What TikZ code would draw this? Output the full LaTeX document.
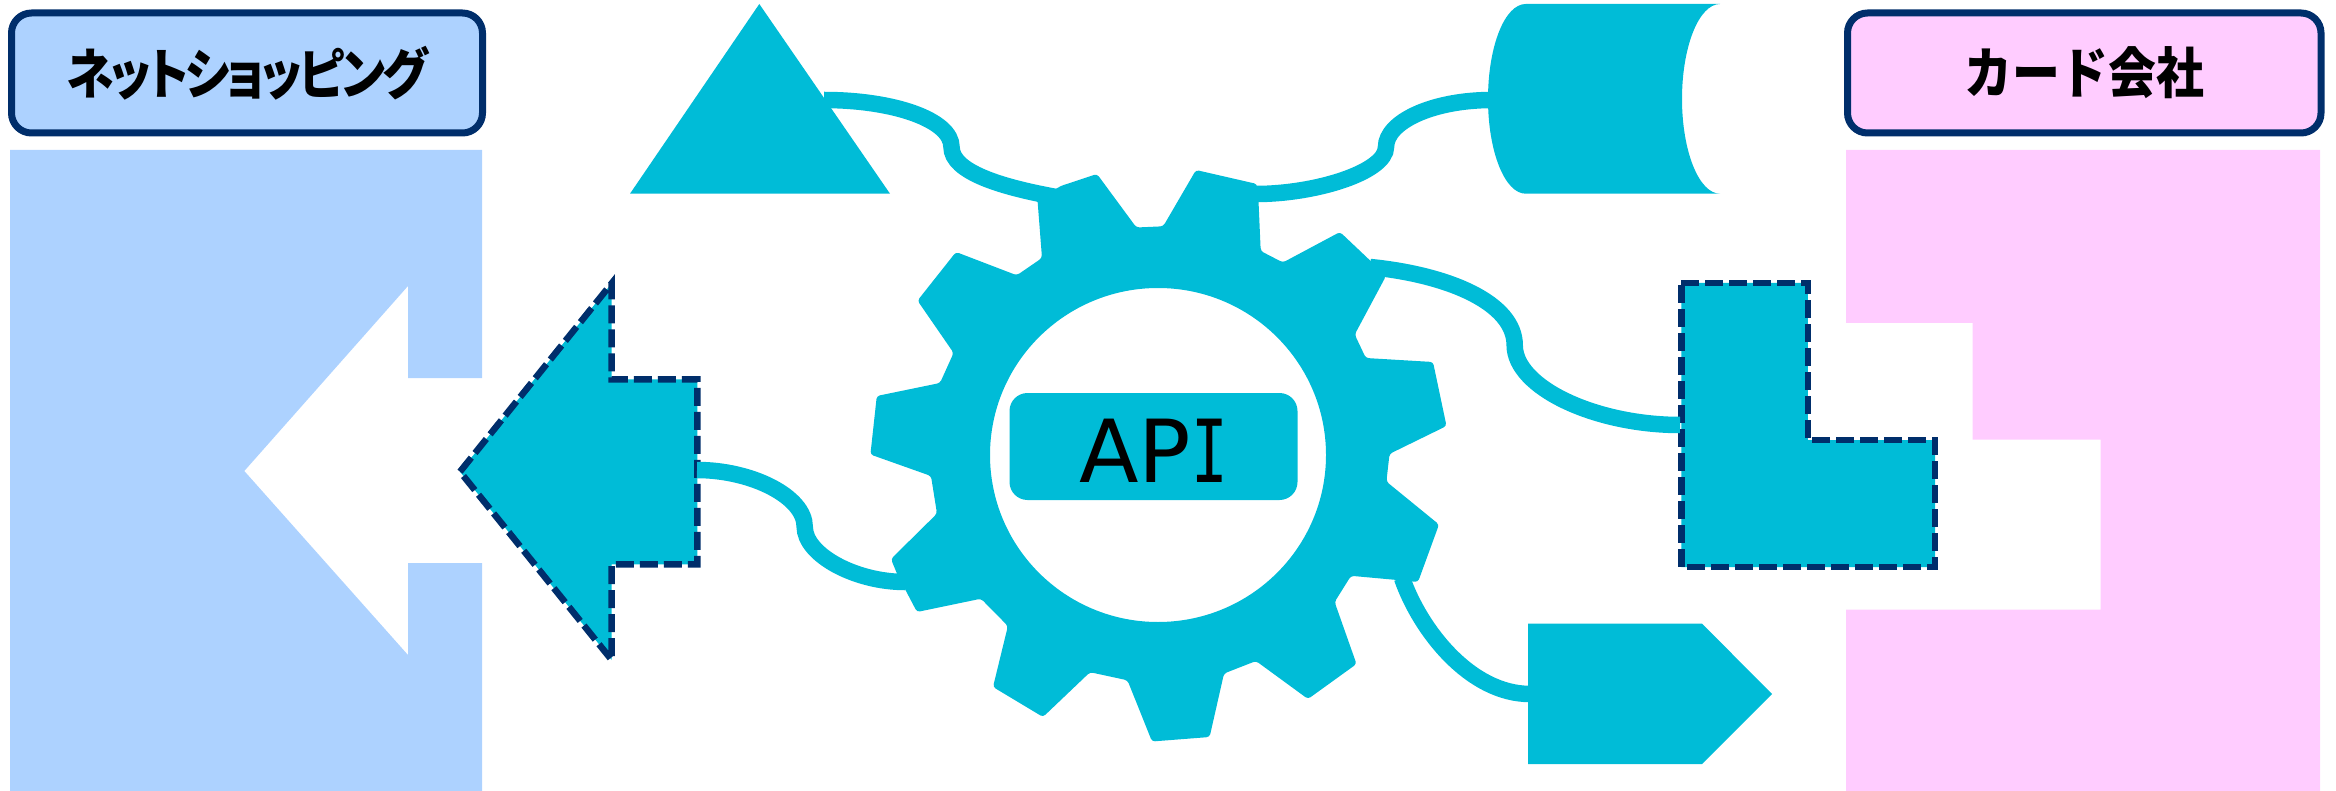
\documentclass[tikz,border=0pt]{standalone}
\usepackage{fontspec}
\setmainfont{DejaVu Sans}
\newfontfamily\jpfont[FakeStretch=0.87]{Noto Sans CJK JP}
\newfontfamily\jppalt[RawFeature=+palt,LetterSpace=-5.6,FakeStretch=0.87]{Noto Sans CJK JP}
\newfontfamily\ifont[FakeStretch=0.7]{DejaVu Sans Mono}
\definecolor{cy}{HTML}{00BCD7}
\definecolor{navy}{HTML}{002E6B}
\definecolor{lblue}{HTML}{ADD2FF}
\definecolor{lpink}{HTML}{FFCCFF}
\tikzset{
  titlebox/.style={draw=navy,line width=7pt,rounded corners=20pt,inner sep=0pt,minimum height=120pt,font=\fontsize{55}{66}\selectfont\bfseries},
  apibox/.style={fill=cy,rounded corners=18pt,inner sep=0pt,minimum width=288pt,minimum height=107pt,text height=72pt,text depth=0pt,font=\fontsize{87}{100}\selectfont},
  solidshape/.style={fill=cy},
  dashshape/.style={fill=cy,draw=navy,line width=6.5pt,dash pattern=on 18pt off 6pt},
  link/.style={draw=cy,line width=16.5pt},
}
\begin{document}
\begin{tikzpicture}[x=1pt,y=-1pt]
\useasboundingbox (0,0) rectangle (2336,791);
% panels
\fill[lblue] (10,150)--(482,150)--(482,378)--(408,378)--(408,286)--(244.3,471)--(408,655)--(408,563)--(482,563)--(482,791)--(10,791)--cycle;
\fill[lpink] (1846,150)--(2320,150)--(2320,791)--(1846,791)--(1846,609.5)--(2100.6,609.5)--(2100.6,439.5)--(1972.5,439.5)--(1972.5,323)--(1846,323)--cycle;
\node[titlebox,fill=lblue,minimum width=471pt] (shop) at (247,73) {\jppalt ネットショッピング};
\node[titlebox,fill=lpink,minimum width=473.5pt] (card) at (2084.25,73) {\jpfont カード会社};
% client shapes
\fill[solidshape] (759.3,4)--(890,193.7)--(630,193.7)--cycle;
\fill[solidshape] (1525.7,4)--(1720,4)
  .. controls (1699,4) and (1682,46.4) .. (1682,99)
  .. controls (1682,151.3) and (1699,193.7) .. (1720,193.7)
  --(1525.7,193.7)
  .. controls (1504.7,193.7) and (1488,151.3) .. (1488,99)
  .. controls (1488,46.4) and (1504.7,4) .. (1525.7,4)--cycle;
\fill[solidshape] (1528,623.6)--(1702,623.6)--(1772,694)--(1702,764)--(1528,764)--cycle;
\path[dashshape] (460,471.7)--(611.7,283.3)--(611.7,379.3)--(697.3,379.3)--(697.3,564.3)--(611.7,564.3)--(611.7,660)--cycle;
\path[dashshape] (1681.4,282.8)--(1807.9,282.8)--(1807.9,440)--(1935.2,440)--(1935.2,567)--(1681.4,567)--cycle;
% connector end points and bends
\coordinate (triEnd) at (824,100);
\coordinate (triMid) at (951.5,147);
\coordinate (gearA) at (1056,197);
\coordinate (gearB) at (1256,194);
\coordinate (cylMid) at (1386,147);
\coordinate (cylEnd) at (1492,100);
\coordinate (arrEnd) at (697,470);
\coordinate (arrMid) at (804.7,526.7);
\coordinate (gearC) at (905,582);
\coordinate (gearD) at (1370,267);
\coordinate (lMid) at (1514.7,345.3);
\coordinate (lEnd) at (1680,425);
\coordinate (gearE) at (1402,578);
\coordinate (penEnd) at (1530,694);
\draw[link] (triEnd) .. controls +(70,0) and +(0,-27) .. (triMid) .. controls +(0,25) and +(-55,-10) .. (gearA);
\draw[link] (gearB) .. controls +(60,0) and +(0,25) .. (cylMid) .. controls +(0,-25) and +(-60,0) .. (cylEnd);
\draw[link] (arrEnd) .. controls +(55,0) and +(0,-30) .. (arrMid) .. controls +(0,28) and +(-50,0) .. (gearC);
\draw[link] (gearD) .. controls +(80,8) and +(0,-42) .. (lMid) .. controls +(0,42) and +(-85,0) .. (lEnd);
\draw[link] (gearE) .. controls (1420,630) and (1470,694) .. (penEnd);
% gear
\fill[solidshape,even odd rule,rounded corners=3pt]
 (1037.5,200.2)--(1060.7,186)--(1097,174)--(1136.4,227.5)--(1163.2,226.3)--(1196,170)--(1257,184)--(1258.6,203.4)--(1260.7,251)--(1282.9,262.5)--(1340,232)--(1367.9,258.4)--(1386,276)--(1354.7,334.5)--(1365.8,358)--(1433,362)--(1446.5,426)--(1389.5,453.9)--(1386.4,481.6)--(1439,524.5)--(1418,582)--(1392.7,579.6)--(1351,575.8)--(1334.6,602)--(1356.5,664)--(1308,699)--(1256,661)--(1224,673.5)--(1209.6,737)--(1152,741.5)--(1127.5,680.3)--(1090,672.2)--(1043,717)--(993,687)--(1007.9,626)--(981,598.7)--(917,612)--(906,591)--(897,573.8)--(891,559)--(937,513.6)--(931,476)--(870.4,454.5)--(876.8,396)--(940,383)--(953.6,352.9)--(917.5,300.6)--(956,252)--(1016.8,275.3)--(1042,258)--(1037.5,200.2)--cycle
 [sharp corners] (1158,455) circle[x radius=168pt,y radius=167pt];
\node[apibox] (api) at (1153.5,446.5) {AP{\ifont I}};
\end{tikzpicture}
\end{document}
